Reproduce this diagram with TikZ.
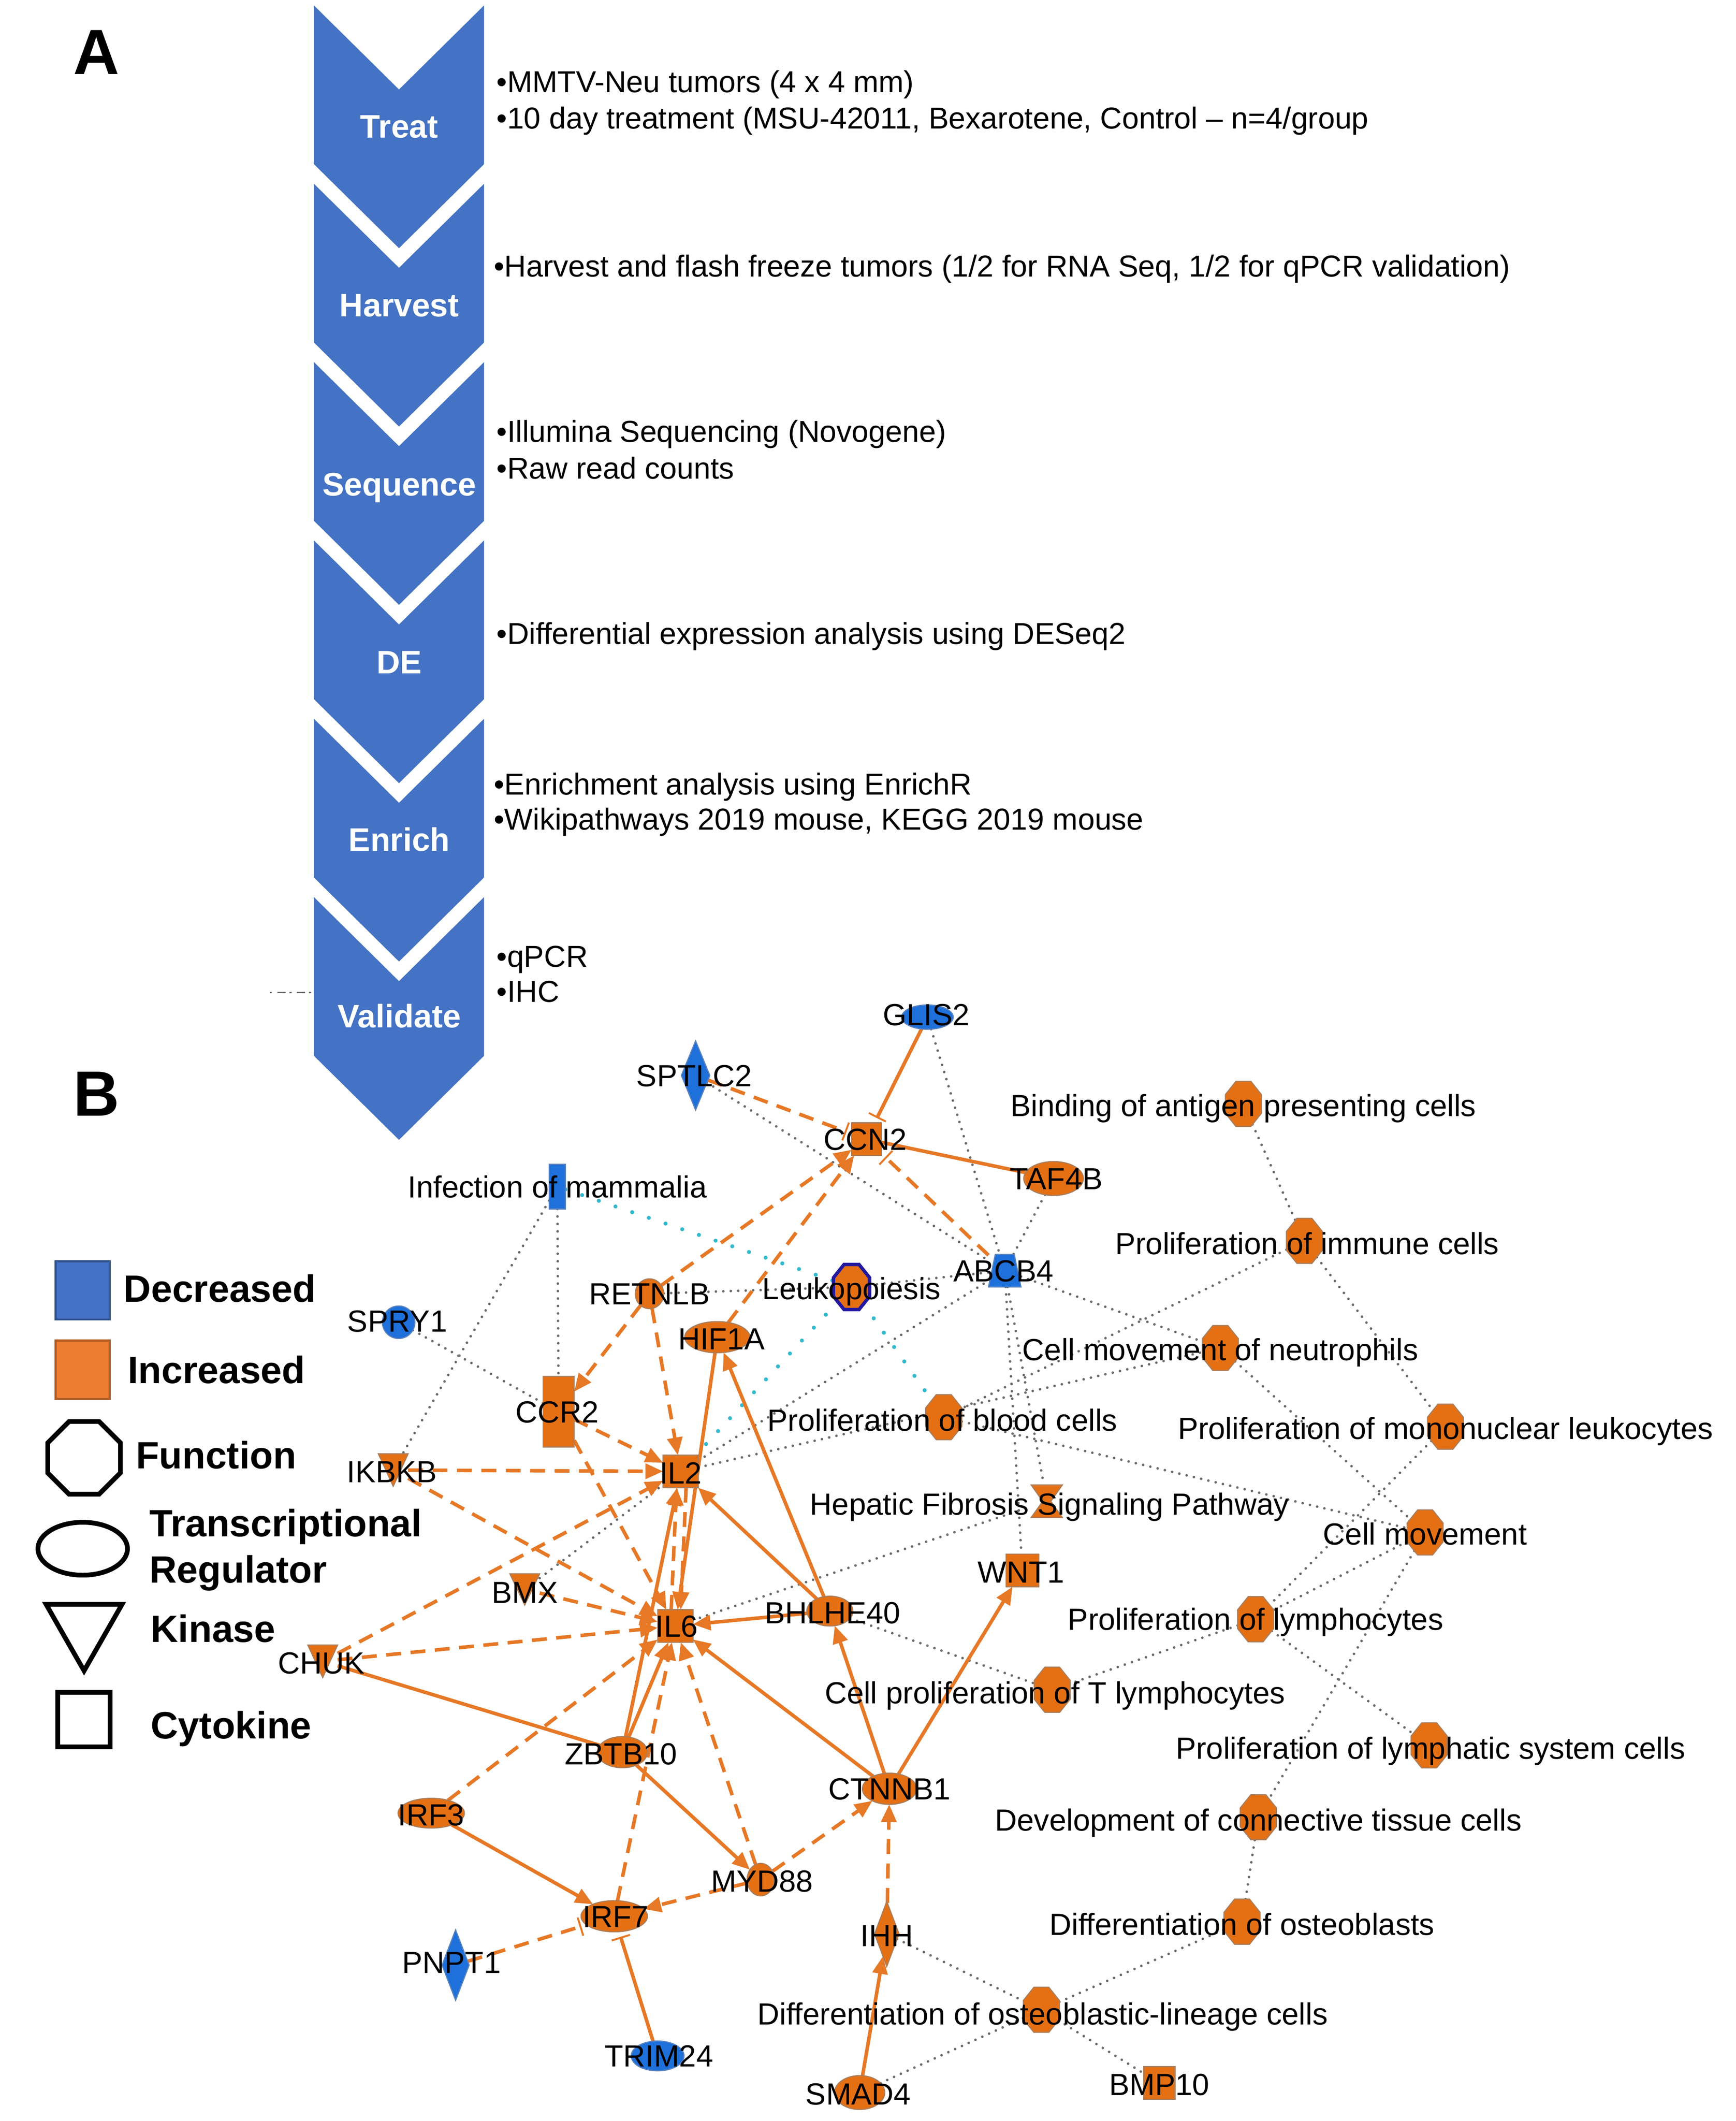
\documentclass[tikz,border=0pt]{standalone}
\usepackage{fontspec}
\setmainfont{Liberation Sans}
\usetikzlibrary{shapes.geometric,arrows.meta}
\newdimen\pxu
\pxu=0.8917pt
\definecolor{chevblue}{RGB}{68,114,196}
\definecolor{legor}{RGB}{237,125,49}
\definecolor{legorb}{RGB}{174,90,33}
\definecolor{legbl}{RGB}{68,114,196}
\definecolor{legblb}{RGB}{47,82,143}
\definecolor{nodeor}{RGB}{229,112,20}
\definecolor{nodeorb}{RGB}{170,125,90}
\definecolor{nodebl}{RGB}{30,112,218}
\definecolor{nodeblb}{RGB}{90,130,190}
\definecolor{edgeor}{RGB}{230,120,38}
\definecolor{dotgray}{RGB}{105,105,105}
\definecolor{dotcyan}{RGB}{50,185,205}
\definecolor{leukb}{RGB}{35,25,160}
\pgfdeclarelayer{edges}
\pgfsetlayers{edges,main}
\newcommand\netfont{\fontsize{20.1pt}{24pt}\selectfont}
\newcommand\bodyfont{\fontsize{19.9pt}{24pt}\selectfont}
\newcommand\chevfont{\fontsize{21.4pt}{25pt}\selectfont\bfseries}
\newcommand\legfont{\fontsize{25pt}{30pt}\selectfont\bfseries}
\newcommand\panelfont{\fontsize{42pt}{48pt}\selectfont\bfseries}
\tikzset{
 sz/.style 2 args={minimum width=#1\pxu, minimum height=#2\pxu},
 gene/.style={inner sep=0.5pt, outer sep=0pt, line width=0.8\pxu},
 upn/.style={gene, fill=nodeor, draw=nodeorb},
 dnn/.style={gene, fill=nodebl, draw=nodeblb},
 tr/.style={ellipse},
 cy/.style={rectangle},
 dia/.style={diamond},
 fn/.style={regular polygon, regular polygon sides=8, minimum size=36\pxu, xscale=0.8},
 box/.style={rectangle, inner sep=0pt, outer sep=0pt},
 lab/.style={inner sep=0pt, font=\netfont, text height=14.4pt, text depth=0pt},
 body/.style={anchor=west, inner sep=0pt, font=\bodyfont, text height=14.25pt, text depth=0pt},
 chevlab/.style={inner sep=0pt, font=\chevfont, text=white, text height=15.3pt, text depth=0pt},
 leglab/.style={anchor=west, inner sep=0pt, font=\legfont, text height=17.9pt, text depth=0pt},
 panel/.style={inner sep=0pt, font=\panelfont, text height=30.1pt, text depth=0pt},
 chev/.style={fill=chevblue},
 oe/.style={draw=edgeor, line width=2.6\pxu},
 ds/.style={dash pattern=on 11\pxu off 7\pxu},
 ar/.style={-{Triangle[length=11.6pt,width=9.8pt]}},
 ib/.style={-{Bar[width=12.5pt,line width=1.25pt]}, shorten >=3.5pt},
 gd/.style={draw=dotgray, line width=1.9\pxu, line cap=round, dash pattern=on 0pt off 5.5\pxu},
 cd/.style={draw=dotcyan, line width=3\pxu, line cap=round, dash pattern=on 0pt off 13\pxu},
}
\begin{document}
\begin{tikzpicture}[x=0.8917pt, y=-0.8917pt]
\useasboundingbox (0,0) rectangle (1280,1564);

% ---------- Panel A ----------
\node[panel] (pA) at (71,38) {A};
\node[panel] (pB) at (71,806) {B};
\foreach \t in {4,135.5,267,398.5,530,661.5}{
 \fill[chev] (231.5,\t) -- (294.25,\t+62) -- (357,\t) -- (357,\t+117) -- (294.25,\t+179) -- (231.5,\t+117) -- cycle;
}
\node[chevlab] (cTreat) at (294.5,93) {Treat};
\node[chevlab] (cHarv) at (294.5,225) {Harvest};
\node[chevlab] (cSeq) at (294.5,357) {Sequence};
\node[chevlab] (cDE) at (294.5,488) {DE};
\node[chevlab] (cEnr) at (294.5,619) {Enrich};
\node[chevlab] (cVal) at (294.5,749) {Validate};

\node[body] (tA1) at (366,60) {•MMTV-Neu tumors (4 x 4 mm)};
\node[body] (tA2) at (366,87) {•10 day treatment (MSU-42011, Bexarotene, Control – n=4/group};
\node[body] (tH1) at (364,196) {•Harvest and flash freeze tumors (1/2 for RNA Seq, 1/2 for qPCR validation)};
\node[body] (tS1) at (366,318) {•Illumina Sequencing (Novogene)};
\node[body] (tS2) at (366,345) {•Raw read counts};
\node[body] (tD1) at (366,467) {•Differential expression analysis using DESeq2};
\node[body] (tE1) at (364,578) {•Enrichment analysis using EnrichR};
\node[body] (tE2) at (364,604) {•Wikipathways 2019 mouse, KEGG 2019 mouse};
\node[body] (tV1) at (366,705) {•qPCR};
\node[body] (tV2) at (366,731) {•IHC};
\coordinate (art1) at (199,732);
\coordinate (art2) at (231,732);
\draw[dotgray, line width=1\pxu, dash pattern=on 1.5\pxu off 4\pxu on 6\pxu off 3\pxu] (art1) -- (art2);

% ---------- Legend ----------
\node[box, fill=legbl, draw=legblb, line width=1.5\pxu, sz={40}{43}] (lgSqB) at (61,951.5) {};
\node[box, fill=legor, draw=legorb, line width=1.5\pxu, sz={40}{43}] (lgSqO) at (61,1010) {};
\node[regular polygon, regular polygon sides=8, minimum size=58\pxu, draw, line width=3.5\pxu, inner sep=0.5pt] (lgOct) at (62,1075) {};
\node[ellipse, draw, line width=3.5\pxu, sz={66}{39}, inner sep=0.5pt] (lgEll) at (61,1142) {};
\node[box, sz={56}{49}] (lgTri) at (62,1207.5) {};
\draw[line width=3.5\pxu, line join=miter] (lgTri.north west) -- (lgTri.north east) -- (lgTri.south) -- cycle;
\node[box, draw, line width=3.5\pxu, sz={38.5}{40.5}] (lgSq) at (62,1268) {};
\node[leglab] (lgDec) at (91,950) {Decreased};
\node[leglab] (lgInc) at (94,1010) {Increased};
\node[leglab] (lgFun) at (100,1073) {Function};
\node[leglab] (lgTr1) at (110,1123) {Transcriptional};
\node[leglab] (lgTr2) at (110,1157) {Regulator};
\node[leglab] (lgKin) at (111,1201) {Kinase};
\node[leglab] (lgCyt) at (111,1272) {Cytokine};

% ---------- Network shapes ----------
\node[dnn,tr,sz={38}{18}] (GLIS2) at (684,750) {};
\node[dnn,dia,sz={21}{51}] (SPTLC2) at (513,793) {};
\node[upn,cy,sz={22}{24}] (CCN2) at (639,840) {};
\node[upn,tr,sz={44}{25}] (TAF4B) at (777,869) {};
\node[dnn,cy,sz={12}{33}] (INF) at (411,875) {};
\node[box,sz={24}{24}] (ABCB4) at (741,937) {};
\node[upn,fn,draw=leukb,line width=2.5\pxu] (LEUK) at (628,949) {};
\node[upn,tr,sz={21}{22}] (RETNLB) at (479,954) {};
\node[upn,tr,sz={48}{23}] (HIF1A) at (529,986) {};
\node[dnn,circle,minimum size=24\pxu] (SPRY1) at (294,975) {};
\node[upn,cy,sz={23}{52}] (CCR2) at (412,1041) {};
\node[upn,fn] (PBLOOD) at (696,1045) {};
\node[box,sz={22}{24}] (IKBKB) at (290,1084) {};
\node[upn,cy,sz={26}{24}] (IL2) at (502,1085) {};
\node[box,sz={23}{24}] (HEP) at (772,1107) {};
\node[box,sz={22}{23}] (BMX) at (387,1172) {};
\node[upn,cy,sz={24}{24}] (WNT1) at (754,1158) {};
\node[upn,cy,sz={26}{24}] (IL6) at (498,1199) {};
\node[upn,tr,sz={34}{22}] (BHLHE40) at (612,1188) {};
\node[box,sz={22}{24}] (CHUK) at (238,1225) {};
\node[upn,fn] (TLYM) at (776,1246) {};
\node[upn,tr,sz={37}{23}] (ZBTB10) at (459,1292) {};
\node[upn,tr,sz={40}{23}] (CTNNB1) at (656,1319) {};
\node[upn,tr,sz={49}{22}] (IRF3) at (318,1337) {};
\node[upn,tr,sz={20}{24}] (MYD88) at (561,1386) {};
\node[upn,tr,sz={49}{23}] (IRF7) at (453,1413) {};
\node[upn,dia,sz={18}{48}] (IHH) at (654,1426) {};
\node[dnn,dia,sz={20}{52}] (PNPT1) at (336,1449) {};
\node[dnn,tr,sz={39}{22}] (TRIM24) at (485,1516) {};
\node[upn,fn] (DOL) at (768,1482) {};
\node[upn,tr,sz={37}{25}] (SMAD4) at (634,1543) {};
\node[upn,cy,sz={23}{24}] (BMP10) at (855,1536) {};
\node[upn,fn] (BIND) at (917,814) {};
\node[upn,fn] (IMMUNE) at (962,915) {};
\node[upn,fn] (NEUT) at (900,994) {};
\node[upn,fn] (MONO) at (1066,1052) {};
\node[upn,fn] (CMOV) at (1051,1130) {};
\node[upn,fn] (LYMPH) at (926,1194) {};
\node[upn,fn] (LYMPHSYS) at (1054,1287) {};
\node[upn,fn] (CONN) at (928,1340) {};
\node[upn,fn] (DOST) at (916,1417) {};
% kinase triangles, transporter, pathway hourglass
\foreach \k in {IKBKB,BMX,CHUK}{
 \filldraw[fill=nodeor, draw=nodeorb, line width=0.8\pxu] (\k.north west) -- (\k.north east) -- (\k.south) -- cycle;
}
\filldraw[fill=nodebl, draw=nodeblb, line width=0.8\pxu] ([xshift=5\pxu]ABCB4.north west) -- ([xshift=-5\pxu]ABCB4.north east) -- (ABCB4.south east) -- (ABCB4.south west) -- cycle;
\filldraw[fill=nodeor, draw=nodeorb, line width=0.8\pxu] (HEP.north west) -- (HEP.north east) -- ([xshift=3\pxu]HEP.center) -- (HEP.south east) -- (HEP.south west) -- ([xshift=-3\pxu]HEP.center) -- cycle;

% ---------- Edges ----------
\begin{pgfonlayer}{edges}
% gray dotted relations
\draw[gd] (SPRY1) -- (CCR2);
\draw[gd] (INF) -- (IKBKB);
\draw[gd] (INF) -- (CCR2);
\draw[gd] (SPTLC2) -- (ABCB4);
\draw[gd] (GLIS2) -- (ABCB4);
\draw[gd] (TAF4B) -- (ABCB4);
\draw[gd] (RETNLB) -- (LEUK);
\draw[gd] (LEUK) -- (ABCB4);
\draw[gd] (IL2) -- (ABCB4);
\draw[gd] (IL2) -- (NEUT);
\draw[gd] (BMX) -- (IL2);
\draw[gd] (BIND) -- (IMMUNE);
\draw[gd] (IMMUNE) -- (PBLOOD);
\draw[gd] (IMMUNE) -- (MONO);
\draw[gd] (ABCB4) -- (NEUT);
\draw[gd] (NEUT) -- (CMOV);
\draw[gd] (ABCB4) -- (WNT1);
\draw[gd] (ABCB4) -- (HEP);
\draw[gd] (PBLOOD) -- (CMOV);
\draw[gd] (MONO) -- (LYMPH);
\draw[gd] (CMOV) -- (LYMPH);
\draw[gd] (CMOV) -- (CONN);
\draw[gd] (LYMPH) -- (TLYM);
\draw[gd] (LYMPH) -- (LYMPHSYS);
\draw[gd] (BHLHE40) -- (TLYM);
\draw[gd] (IL6) -- (HEP);
\draw[gd] (IHH) -- (DOL);
\draw[gd] (SMAD4) -- (DOL);
\draw[gd] (DOL) -- (BMP10);
\draw[gd] (DOL) -- (DOST);
\draw[gd] (DOST) -- (CONN);
% cyan dotted
\draw[cd] (INF) -- (LEUK);
\draw[cd] (LEUK) -- (IL2);
\draw[cd] (LEUK) -- (PBLOOD);
% orange relations
\draw[oe,ib] (GLIS2) -- (CCN2);
\draw[oe,ds,ib] (SPTLC2) -- (CCN2);
\draw[oe] (CCN2) -- (TAF4B);
\draw[oe,ds,ib] (ABCB4) -- (CCN2);
\draw[oe,ds,ar] (RETNLB) -- (CCN2);
\draw[oe,ds,ar] (HIF1A) -- (CCN2);
\draw[oe,ds,ar] (RETNLB) -- (CCR2);
\draw[oe,ds,ar] (RETNLB) -- (IL2);
\draw[oe,ds,ar] (CCR2) -- (IL2);
\draw[oe,ds,ar] (CCR2) -- (IL6);
\draw[oe,ds,ar] (IKBKB) -- (IL2);
\draw[oe,ds,ar] (IKBKB) -- (IL6);
\draw[oe,ds,ar] (CHUK) -- (IL2);
\draw[oe,ds,ar] (CHUK) -- (IL6);
\draw[oe] (CHUK) -- (ZBTB10);
\draw[oe,ds,ar] (BMX) -- (IL6);
\draw[oe,ar] (HIF1A) -- (IL6);
\draw[oe,ds,ar] ([xshift=4\pxu]IL2.south) -- ([xshift=4\pxu]IL6.north);
\draw[oe,ds,ar] ([xshift=-3\pxu]IL6.north) -- ([xshift=-3\pxu]IL2.south);
\draw[oe,ar] (ZBTB10) -- (IL2);
\draw[oe,ar] (ZBTB10) -- (IL6);
\draw[oe,ar] (BHLHE40) -- (IL6);
\draw[oe,ar] (BHLHE40) -- (IL2);
\draw[oe,ar] (BHLHE40) -- (HIF1A);
\draw[oe,ar] (CTNNB1) -- (IL6);
\draw[oe,ar] (CTNNB1) -- (BHLHE40);
\draw[oe,ar] (CTNNB1) -- (WNT1);
\draw[oe,ds,ar] (IRF3) -- (IL6);
\draw[oe,ar] (IRF3) -- (IRF7);
\draw[oe,ds,ar] (IRF7) -- (IL6);
\draw[oe,ds,ar] (MYD88) -- (IL6);
\draw[oe,ar] (ZBTB10) -- (MYD88);
\draw[oe,ds,ar] (MYD88) -- (IRF7);
\draw[oe,ds,ar] (MYD88) -- (CTNNB1);
\draw[oe,ds,ib] (PNPT1) -- (IRF7);
\draw[oe,ib] (TRIM24) -- (IRF7);
\draw[oe,ds,ar] (IHH) -- (CTNNB1);
\draw[oe,ar] (SMAD4) -- (IHH);
\end{pgfonlayer}

% ---------- Network labels ----------
\node[lab] (lGLIS2) at (683,748) {GLIS2};
\node[lab] (lSPTLC2) at (512,793) {SPTLC2};
\node[lab] (lCCN2) at (638,840) {CCN2};
\node[lab] (lTAF4B) at (779,869) {TAF4B};
\node[lab] (lINF) at (411,875) {Infection of mammalia};
\node[lab] (lABCB4) at (740,937) {ABCB4};
\node[lab] (lLEUK) at (628,950) {Leukopoiesis};
\node[lab] (lRETNLB) at (479,954) {RETNLB};
\node[lab] (lHIF1A) at (532,987) {HIF1A};
\node[lab] (lSPRY1) at (293,974) {SPRY1};
\node[lab] (lCCR2) at (411,1041) {CCR2};
\node[lab] (lPBLOOD) at (695,1047) {Proliferation of blood cells};
\node[lab] (lIKBKB) at (289,1085) {IKBKB};
\node[lab] (lIL2) at (502,1086) {IL2};
\node[lab] (lHEP) at (774,1109) {Hepatic Fibrosis Signaling Pathway};
\node[lab] (lBMX) at (387,1174) {BMX};
\node[lab] (lWNT1) at (753,1159) {WNT1};
\node[lab] (lIL6) at (499,1199) {IL6};
\node[lab] (lBHLHE40) at (614,1189) {BHLHE40};
\node[lab] (lCHUK) at (237,1226) {CHUK};
\node[lab] (lTLYM) at (778,1248) {Cell proliferation of T lymphocytes};
\node[lab] (lZBTB10) at (458,1293) {ZBTB10};
\node[lab] (lCTNNB1) at (656,1319) {CTNNB1};
\node[lab] (lIRF3) at (318,1338) {IRF3};
\node[lab] (lMYD88) at (562,1387) {MYD88};
\node[lab] (lIRF7) at (454,1413) {IRF7};
\node[lab] (lIHH) at (654,1427) {IHH};
\node[lab] (lPNPT1) at (333,1447) {PNPT1};
\node[lab] (lTRIM24) at (486,1516) {TRIM24};
\node[lab] (lDOL) at (769,1485) {Differentiation of osteoblastic-lineage cells};
\node[lab] (lSMAD4) at (633,1544) {SMAD4};
\node[lab] (lBMP10) at (855,1537) {BMP10};
\node[lab] (lBIND) at (917,815) {Binding of antigen presenting cells};
\node[lab] (lIMMUNE) at (964,917) {Proliferation of immune cells};
\node[lab] (lNEUT) at (900,995) {Cell movement of neutrophils};
\node[lab] (lMONO) at (1066,1053) {Proliferation of mononuclear leukocytes};
\node[lab] (lCMOV) at (1051,1131) {Cell movement};
\node[lab] (lLYMPH) at (926,1194) {Proliferation of lymphocytes};
\node[lab] (lLYMPHSYS) at (1055,1289) {Proliferation of lymphatic system cells};
\node[lab] (lCONN) at (928,1342) {Development of connective tissue cells};
\node[lab] (lDOST) at (916,1419) {Differentiation of osteoblasts};
\end{tikzpicture}
\end{document}
